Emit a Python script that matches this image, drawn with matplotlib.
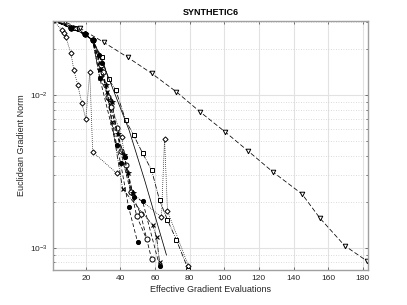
import matplotlib
matplotlib.use("Agg")
import matplotlib.pyplot as plt
from matplotlib.ticker import LogLocator, NullFormatter, FixedLocator

plt.rcParams['font.family'] = ['Liberation Sans', 'DejaVu Sans']

title = "SYNTHETIC6"
xlabel = "Effective Gradient Evaluations"
ylabel = "Euclidean Gradient Norm"
xticks = [20, 40, 60, 80, 100, 120, 140, 160, 180]

# triangle-down, dashed
tri_x = [1, 7.9, 16.5, 30.4, 44.2, 58.0, 72.4, 86.2, 100.6, 113.8, 128.2, 144.9, 155.3, 169.6, 182.3]
tri_y = [0.031, 0.0301, 0.0275, 0.0222, 0.0177, 0.0139, 0.0105, 0.00774, 0.00573, 0.00430,
         0.00313, 0.00225, 0.00156, 0.00103, 0.00082]

# diamonds, dotted (fast start)
dia1_x = [1, 6.2, 7.3, 8.5, 11.4, 13.1, 15.4, 17.7, 20.0, 22.3, 24.0, 37.8]
dia1_y = [0.031, 0.0267, 0.0255, 0.0240, 0.0188, 0.0146, 0.0116, 0.00887, 0.00697, 0.0141,
          0.00424, 0.00308]

# diamonds, dotted (late)
dia2_x = [1, 11.4, 19.4, 24.0, 28.0, 33.5, 40.7, 45.9, 63.7, 65.5, 67.2, 79.3]
dia2_y = [0.031, 0.0275, 0.0251, 0.0229, 0.0160, 0.0095, 0.00531, 0.00232, 0.00159, 0.00515,
          0.00174, 0.000759]

# squares, dash-dot
sq_x = [1, 13.7, 24.0, 29.2, 33.2, 37.3, 43.0, 47.6, 52.8, 58.0, 62.6, 67.2, 72.4, 79.3]
sq_y = [0.031, 0.0275, 0.0229, 0.0177, 0.0127, 0.0108, 0.00686, 0.00547, 0.00417, 0.00323,
        0.00205, 0.00152, 0.00112, 0.000715]

# solid line, no markers
sol_x = [1, 15, 24.0, 28, 45, 54, 66.6]
sol_y = [0.031, 0.0275, 0.0229, 0.0183, 0.0059, 0.00277, 0.000895]

# open circles, dashed
c1_x = [1, 11.4, 19.4, 24.0, 28.6, 32.7, 37.8, 40.1, 45.9, 51.7, 58.0]
c1_y = [0.031, 0.0275, 0.0251, 0.0229, 0.0157, 0.0097, 0.00608, 0.00430, 0.00232, 0.00166, 0.000843]
c2_x = [1, 11.4, 19.4, 24.0, 29.8, 34.4, 43.0, 49.4, 55.1]
c2_y = [0.031, 0.0275, 0.0251, 0.0229, 0.0141, 0.00835, 0.00348, 0.00161, 0.00114]

# filled circles, dashed
f1_x = [1, 11.4, 19.4, 24.0, 27.5, 29.2, 37.8, 42.4, 47.6, 52.8, 62.6]
f1_y = [0.031, 0.0275, 0.0251, 0.0229, 0.0183, 0.0162, 0.00471, 0.00393, 0.00215, 0.00202, 0.00076]
f2_x = [1, 11.4, 19.4, 24.0, 28.1, 40.1, 44.7, 49.9]
f2_y = [0.031, 0.0275, 0.0251, 0.0229, 0.0129, 0.00359, 0.00185, 0.00109]

# x markers, dash-dot
xm_x = [1, 11.4, 19.4, 24.0, 28.1, 32.1, 35.0, 41.3, 58.6, 60.9, 62.6]
xm_y = [0.031, 0.0275, 0.0251, 0.0229, 0.0129, 0.0105, 0.00666, 0.00242, 0.00141, 0.00117, 0.000806]

# asterisks, dashed
as_x = [1, 11.4, 19.4, 24.0, 28.1, 31.5, 35.0, 38.4, 41.9, 44.1, 47.0]
as_y = [0.031, 0.0275, 0.0251, 0.0229, 0.0146, 0.0117, 0.00905, 0.00555, 0.00404, 0.00309, 0.00229]

fig = plt.figure(figsize=(4.07, 3.05), dpi=100)
ax = fig.add_axes([0.130, 0.115, 0.774, 0.816])

ms = 3.3
lw = 0.55
k = 'black'
ax.plot(tri_x, tri_y, ls=(0, (6, 3)), lw=lw, color=k, marker='v', ms=ms, mfc='white', mew=0.7)
ax.plot(dia1_x, dia1_y, ls=':', lw=lw, color=k, marker='D', ms=ms * 0.8, mfc='white', mew=0.7)
ax.plot(dia2_x, dia2_y, ls=':', lw=lw, color=k, marker='D', ms=ms * 0.8, mfc='white', mew=0.7)
ax.plot(sq_x, sq_y, ls='-.', lw=lw, color=k, marker='s', ms=ms * 0.8, mfc='white', mew=0.7)
ax.plot(sol_x, sol_y, ls='-', lw=lw, color=k)
ax.plot(c1_x, c1_y, ls=(0, (5, 3)), lw=lw, color=k, marker='o', ms=ms * 1.1, mfc='white', mew=0.7)
ax.plot(c2_x, c2_y, ls=(0, (5, 3)), lw=lw, color=k, marker='o', ms=ms * 1.1, mfc='white', mew=0.7)
ax.plot(f1_x, f1_y, ls=(0, (5, 3)), lw=lw, color=k, marker='o', ms=ms * 0.9, mfc=k, mew=0.7)
ax.plot(f2_x, f2_y, ls=(0, (5, 3)), lw=lw, color=k, marker='o', ms=ms * 0.9, mfc=k, mew=0.7)
ax.plot(xm_x, xm_y, ls='-.', lw=lw, color=k, marker='x', ms=ms, mew=0.8)
ax.plot(as_x, as_y, ls=(0, (5, 3)), lw=lw, color=k, marker='*', ms=ms * 1.2, mfc=k, mew=0.5)

ax.set_yscale('log')
ax.set_xlim(1, 183)
ax.set_ylim(7.15e-4, 0.0306)
ax.xaxis.set_major_locator(FixedLocator(xticks))
ax.yaxis.set_major_locator(LogLocator(base=10, numticks=10))
ax.yaxis.set_minor_locator(LogLocator(base=10, subs=range(2, 10), numticks=20))
ax.yaxis.set_minor_formatter(NullFormatter())

ax.grid(True, which='major', color='#e2e2e2', lw=0.8, ls='-')
ax.grid(True, which='minor', axis='y', color='#cfcfcf', lw=0.6, ls=(0, (1, 2)))
ax.set_axisbelow(True)

for s in ax.spines.values():
    s.set_color('#a0a0a0')
    s.set_linewidth(1.0)

ax.tick_params(which='both', direction='in', top=True, right=True, colors='#404040',
               labelsize=6, length=2.5, width=0.5, labelcolor='#262626')
ax.tick_params(which='minor', length=1.5)

ax.set_title(title, fontsize=6.5, fontweight='bold', pad=4)
ax.set_xlabel(xlabel, fontsize=6.5, color='#262626', labelpad=2)
ax.set_ylabel(ylabel, fontsize=6.5, color='#262626', labelpad=3)

fig.savefig("out.png", dpi=100)
